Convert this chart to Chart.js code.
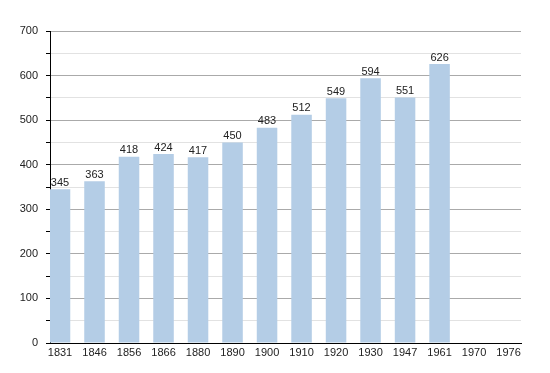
<!DOCTYPE html>
<html lang="en">
<head>
    <meta charset="UTF-8">
    <title>Population</title>
    <script src="https://cdn.jsdelivr.net/npm/chart.js@4.4.0/dist/chart.umd.min.js"></script>
</head>
<style>
    body { margin: 0; background: #fff; }
    #canvas-div { width: 550px; height: 373px; }
</style>
<body>
    <div id="canvas-div">
        <canvas id="bar-chart" width="550" height="373"></canvas>
    </div>
    <script>
    var years = ["1831", "1846", "1856", "1866", "1880", "1890", "1900", "1910", "1920", "1930", "1947", "1961", "1970", "1976"];
    var population = [345, 363, 418, 424, 417, 450, 483, 512, 549, 594, 551, 626, null, null];
    var yTicks = [0, 100, 200, 300, 400, 500, 600, 700];

    // bar labels on top
    var valueLabels = {
        id: "valueLabels",
        afterDatasetsDraw: function(chart) {
            var ctx = chart.ctx;
            var meta = chart.getDatasetMeta(0);
            ctx.save();
            ctx.font = "11px 'Liberation Sans', Arial, sans-serif";
            ctx.fillStyle = "#222";
            ctx.textAlign = "center";
            ctx.textBaseline = "bottom";
            meta.data.forEach(function(bar, i) {
                if (population[i] == null) return;
                ctx.fillText(population[i], bar.x, bar.y - 1);
            });
            ctx.restore();
        }
    };

    var points = population.map(function(v, i) { return {x: i, y: v}; });

    new Chart(document.getElementById("bar-chart"), {
        type: "bar",
        data: {
            datasets: [{
                data: points,
                backgroundColor: "#b4cde6",
                borderWidth: 0,
                categoryPercentage: 1,
                barPercentage: 0.595
            }]
        },
        options: {
            responsive: false,
            animation: false,
            events: [],
            layout: { padding: { left: 0, right: 29, top: 31, bottom: 0 } },
            plugins: {
                legend: { display: false },
                tooltip: { enabled: false }
            },
            scales: {
                x: {
                    type: "linear",
                    offset: false,
                    min: -0.29,
                    max: 13.36,
                    afterBuildTicks: function(scale) {
                        scale.ticks = years.map(function(y, i) { return {value: i}; });
                    },
                    afterFit: function(scale) { scale.height = 30; },
                    grid: { display: false, drawTicks: false },
                    border: { color: "#000", width: 1 },
                    ticks: {
                        padding: 3,
                        color: "#222",
                        font: { family: "'Liberation Sans', Arial, sans-serif", size: 11 },
                        maxRotation: 0,
                        autoSkip: false,
                        callback: function(v) { return years[v]; }
                    }
                },
                y: {
                    min: 0,
                    max: 700,
                    afterFit: function(scale) { scale.width = 50; },
                    grid: {
                        color: function(c) { return c.tick && c.tick.value % 100 === 0 ? "#aaaaaa" : "#e2e2e2"; },
                        tickColor: "#000",
                        tickLength: 4
                    },
                    border: { color: "#000", width: 1 },
                    ticks: {
                        stepSize: 50,
                        padding: 8,
                        color: "#222",
                        font: { family: "'Liberation Sans', Arial, sans-serif", size: 11 },
                        callback: function(v) { return yTicks.indexOf(v) >= 0 ? v : ""; }
                    }
                }
            }
        },
        plugins: [valueLabels]
    });
    </script>
</body>
</html>
